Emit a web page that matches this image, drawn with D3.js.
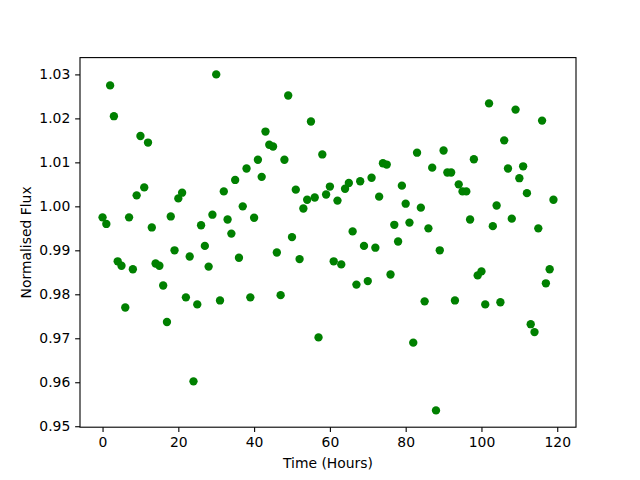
<!DOCTYPE html>
<html>
<head>
<meta charset="utf-8">
<script src="https://cdn.jsdelivr.net/npm/d3@7"></script>
<style>
  body { margin: 0; background: #fff; }
  svg { display: block; }
  text { font-family: "DejaVu Sans", sans-serif; fill: #000; }
</style>
</head>
<body>
<svg id="chart"></svg>
<script>
// hours 0..119, one reading per hour
let hours = d3.range(0, 120)
let flux = [
  0.9975, 0.9960, 1.0275, 1.0205, 0.9875, 0.9865, 0.9770, 0.9975, 0.9857, 1.0025,
  1.0160, 1.0043, 1.0145, 0.9952, 0.9870, 0.9865, 0.9820, 0.9737, 0.9977, 0.9900,
  1.0018, 1.0031, 0.9793, 0.9886, 0.9602, 0.9777, 0.9957, 0.9910, 0.9863, 0.9981,
  1.0300, 0.9786, 1.0034, 0.9970, 0.9938, 1.0060, 0.9883, 1.0000, 1.0086, 0.9793,
  0.9974, 1.0106, 1.0067, 1.0170, 1.0140, 1.0136, 0.9895, 0.9798, 1.0106, 1.0252,
  0.9930, 1.0038, 0.9880, 0.9995, 1.0015, 1.0193, 1.0020, 0.9702, 1.0118, 1.0027,
  1.0045, 0.9875, 1.0013, 0.9868, 1.0040, 1.0053, 0.9943, 0.9822, 1.0057, 0.9910,
  0.9830, 1.0065, 0.9906, 1.0022, 1.0098, 1.0095, 0.9845, 0.9958, 0.9920, 1.0047,
  1.0006, 0.9963, 0.9690, 1.0122, 0.9997, 0.9784, 0.9950, 1.0088, 0.9536, 0.9900,
  1.0127, 1.0077, 1.0077, 0.9786, 1.0050, 1.0034, 1.0034, 0.9970, 1.0107, 0.9843,
  0.9852, 0.9777, 1.0234, 0.9955, 1.0002, 0.9782, 1.0150, 1.0086, 0.9972, 1.0220,
  1.0064, 1.0091, 1.0030, 0.9732, 0.9714, 0.9950, 1.0195, 0.9825, 0.9857, 1.0015
]
let xTicks = [0, 20, 40, 60, 80, 100, 120]
let yTicks = [0.95, 0.96, 0.97, 0.98, 0.99, 1.00, 1.01, 1.02, 1.03]

let points = hours.map((h, i) => ({x: h, y: flux[i]}))

let W = 640, H = 480
let mLeft = 80, mRight = 576, mTop = 57.6, mBottom = 427.2

let svg = d3.select('#chart')
    .attr('width', W)
    .attr('height', H)
    .attr('viewBox', `0 0 ${W} ${H}`)

// matplotlib style 5% margins
let pad = ext => { let d = (ext[1] - ext[0]) * 0.05; return [ext[0] - d, ext[1] + d] }

let x = d3.scaleLinear()
    .domain(pad(d3.extent(points, d => d.x)))
    .range([mLeft, mRight])

let y = d3.scaleLinear()
    .domain(pad(d3.extent(points, d => d.y)))
    .range([mBottom, mTop])

let tickLen = 4.86
let fontPx = 13.9

let axisBottom = d3.axisBottom(x).tickValues(xTicks).tickFormat(d3.format('d'))
    .tickSizeInner(tickLen).tickSizeOuter(0).tickPadding(4.86)
let axisLeft = d3.axisLeft(y).tickValues(yTicks).tickFormat(d3.format('.2f'))
    .tickSizeInner(tickLen).tickSizeOuter(0).tickPadding(4.86)

let gx = svg.append('g')
    .attr('transform', `translate(0, ${mBottom})`)
    .call(axisBottom)
let gy = svg.append('g')
    .attr('transform', `translate(${mLeft}, 0)`)
    .call(axisLeft)

for (let g of [gx, gy]) {
    g.select('.domain').remove()
    g.selectAll('line').attr('stroke', '#000').attr('stroke-width', 1.1)
    g.selectAll('text')
        .style('font-family', '"DejaVu Sans", sans-serif')
        .style('font-size', fontPx + 'px')
        .attr('fill', '#000')
}

svg.append('g').selectAll('circle')
    .data(points)
    .enter().append('circle')
    .attr('cx', d => x(d.x))
    .attr('cy', d => y(d.y))
    .attr('r', 4.17)
    .attr('fill', '#008000')

// spines
svg.append('rect')
    .attr('x', mLeft)
    .attr('y', mTop)
    .attr('width', mRight - mLeft)
    .attr('height', mBottom - mTop)
    .attr('fill', 'none')
    .attr('stroke', '#000')
    .attr('stroke-width', 1.1)

svg.append('text')
    .text('Time (Hours)')
    .attr('x', (mLeft + mRight) / 2)
    .attr('y', 468)
    .attr('text-anchor', 'middle')
    .style('font-size', fontPx + 'px')

svg.append('text')
    .text('Normalised Flux')
    .attr('transform', `translate(31, ${(mTop + mBottom) / 2}) rotate(-90)`)
    .attr('text-anchor', 'middle')
    .style('font-size', fontPx + 'px')
</script>
</body>
</html>
